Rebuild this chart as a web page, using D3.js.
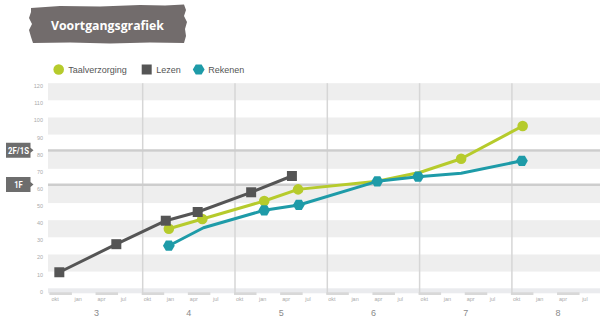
<!DOCTYPE html>
<html>
<head>
<meta charset="utf-8">
<script src="https://d3js.org/d3.v7.min.js"></script>
<style>
  body { margin: 0; background: #fff; }
  svg { display: block; font-family: "Liberation Sans", Arial, sans-serif; }
</style>
</head>
<body>
<div id="chart"></div>
<script>
// groepen en maanden op de x-as
var groepen = [3, 4, 5, 6, 7, 8],
    maanden = ['okt', 'jan', 'apr', 'jul'],
    yTicks = [0, 10, 20, 30, 40, 50, 60, 70, 80, 90, 100, 110, 120]

// referentieniveaus
var niveauLabels = ['2F/1S', '1F'],
    niveauWaarden = [80, 60]

// maand = maanden sinds okt groep 3; meting 0 = knik zonder marker
var taalMaand = [15.4, 19.75, 27.8, 32.2, 42.5, 48.1, 53.4, 61.4],
    taalScore = [35, 40.7, 51.2, 58, 62.7, 68, 75.9, 95],
    taalMeting = [1, 1, 1, 1, 0, 0, 1, 1]

var lezenMaand = [1.16, 8.57, 15.0, 19.15, 26.1, 31.4],
    lezenScore = [9.6, 26, 39.7, 44.8, 56.3, 65.8],
    lezenMeting = [1, 1, 1, 1, 1, 1]

var rekenMaand = [15.4, 19.9, 27.8, 32.3, 42.5, 47.8, 53.4, 61.3],
    rekenScore = [25.1, 35.6, 45.8, 48.9, 62.7, 65.4, 67.4, 74.7],
    rekenMeting = [1, 0, 1, 1, 1, 1, 0, 1]

var defaults = {
    colors: {
        band: '#eeeeee',
        grid: '#d6d6d6',
        niveau: '#cdcdcd',
        label: '#aaaaaa',
        taal: '#b6cb2c',
        lezen: '#555555',
        reken: '#1e9ba8',
        titel: '#726c6c',
        tag: '#6d6d6d'
    }
}

var width = 600, height = 320,
    plotLeft = 48, plotRight = 600

var x = d3.scaleLinear().domain([0, 72]).range([50.4, 604.2])
var y = d3.scaleLinear().domain([0, 120]).range([288.7, 83.2])

var vis = d3.select('#chart').append('svg')
    .attr('width', width)
    .attr('height', height)

// titel
var ruwRand = [[31,8],[60,6],[100,6.5],[140,5],[165,5.5],[184,4.5],[186,10],[184,16],[187,22],[185,29],[186,36],[184,43],
    [150,42.5],[110,43.5],[70,42.5],[33,43],[31,37],[29,30],[32,24],[29,18],[31,12]]
vis.append('path')
    .attr('d', d3.line()(ruwRand) + 'Z')
    .attr('fill', defaults.colors.titel)
vis.append('text')
    .attr('x', 51).attr('y', 30)
    .attr('fill', '#fff')
    .attr('font-family', '"Open Sans", sans-serif')
    .attr('font-weight', 'bold')
    .attr('font-size', 13)
    .attr('textLength', 113)
    .attr('lengthAdjust', 'spacingAndGlyphs')
    .text('Voortgangsgrafiek')

// banden
var bands = yTicks.filter(function(v) { return v % 20 === 10 })
vis.append('g').selectAll('rect').data(bands).join('rect')
    .attr('x', plotLeft)
    .attr('width', plotRight - plotLeft)
    .attr('y', function(v) { return y(v + 10) })
    .attr('height', function(v) { return y(v) - y(v + 10) })
    .attr('fill', defaults.colors.band)

// y labels
vis.append('g').selectAll('text').data(yTicks).join('text')
    .attr('x', 43)
    .attr('y', function(v) { return y(v) + 5 })
    .attr('text-anchor', 'end')
    .attr('font-size', 5.5)
    .attr('fill', defaults.colors.label)
    .text(function(v) { return v })

// as-strook onderaan
vis.append('rect')
    .attr('x', plotLeft).attr('y', 288.3)
    .attr('width', plotRight - plotLeft).attr('height', 5)
    .attr('fill', '#eaebee')

var kwartalen = []
groepen.forEach(function(g, gi) {
    maanden.forEach(function(m, mi) {
        kwartalen.push({ groep: g, maand: m, t: gi * 12 + mi * 3, idx: mi })
    })
})

vis.append('g').selectAll('rect').data(kwartalen.filter(function(d) { return d.idx % 2 === 0 })).join('rect')
    .attr('x', function(d) { return x(d.t) - 1 })
    .attr('y', 292.3)
    .attr('width', 22.5)
    .attr('height', 2.7)
    .attr('fill', '#d8d8d8')

vis.append('g').selectAll('text').data(kwartalen).join('text')
    .attr('x', function(d) { return x(d.t) + 1 })
    .attr('y', 301)
    .attr('font-size', 5.5)
    .attr('fill', defaults.colors.label)
    .text(function(d) { return d.maand })

vis.append('g').selectAll('text').data(groepen).join('text')
    .attr('x', function(g, i) { return x(i * 12 + 6) })
    .attr('y', 316)
    .attr('text-anchor', 'middle')
    .attr('font-size', 9)
    .attr('fill', '#8a8a8a')
    .text(function(g) { return g })

// verticale lijnen per groep
vis.append('g').selectAll('line').data(groepen.slice(1)).join('line')
    .attr('x1', function(g, i) { return x((i + 1) * 12) })
    .attr('x2', function(g, i) { return x((i + 1) * 12) })
    .attr('y1', y(120))
    .attr('y2', 294)
    .attr('stroke', defaults.colors.grid)
    .attr('stroke-width', 1.5)

// niveaulijnen met labels
var niveaus = niveauLabels.map(function(l, i) { return { label: l, value: niveauWaarden[i] } })
vis.append('g').selectAll('line').data(niveaus).join('line')
    .attr('x1', plotLeft).attr('x2', plotRight)
    .attr('y1', function(d) { return y(d.value) - 1.2 })
    .attr('y2', function(d) { return y(d.value) - 1.2 })
    .attr('stroke', defaults.colors.niveau)
    .attr('stroke-width', 2.5)

var tags = vis.append('g').selectAll('g').data(niveaus).join('g')
    .attr('transform', function(d) { return 'translate(0,' + (y(d.value) - 1.5) + ')' })
tags.append('path')
    .attr('d', 'M6,-7.5H30.5V-2.5L33.5,0L30.5,2.5V7.5H6Z')
    .attr('fill', defaults.colors.tag)
tags.append('text')
    .attr('x', 18.5).attr('y', 3.3)
    .attr('text-anchor', 'middle')
    .attr('fill', '#fff')
    .attr('font-family', 'Roboto, sans-serif')
    .attr('font-weight', 'bold')
    .attr('font-size', 9.5)
    .attr('textLength', function(d) { return d.label.length > 2 ? 21 : 8.5 })
    .attr('lengthAdjust', 'spacingAndGlyphs')
    .text(function(d) { return d.label })

// reeksen
function hexPath(r) {
    return d3.line()(d3.range(6).map(function(k) {
        return [r * Math.cos(k * Math.PI / 3), r * Math.sin(k * Math.PI / 3)]
    })) + 'Z'
}
var markers = {
    circle: d3.symbol(d3.symbolCircle, 88)(),
    square: d3.symbol(d3.symbolSquare, 100)(),
    hexagon: hexPath(5.9)
}

var reeksen = [
    { naam: 'Taalverzorging', kleur: defaults.colors.taal, vorm: 'circle', maand: taalMaand, score: taalScore, meting: taalMeting },
    { naam: 'Lezen', kleur: defaults.colors.lezen, vorm: 'square', maand: lezenMaand, score: lezenScore, meting: lezenMeting },
    { naam: 'Rekenen', kleur: defaults.colors.reken, vorm: 'hexagon', maand: rekenMaand, score: rekenScore, meting: rekenMeting }
]

var line = d3.line()
    .x(function(d) { return x(d.t) })
    .y(function(d) { return y(d.v) })

reeksen.forEach(function(r) {
    var punten = r.maand.map(function(t, i) { return { t: t, v: r.score[i], m: r.meting[i] } })
    var g = vis.append('g')
    g.append('path')
        .datum(punten)
        .attr('d', line)
        .attr('fill', 'none')
        .attr('stroke', r.kleur)
        .attr('stroke-width', 3)
        .attr('stroke-linejoin', 'round')
    g.selectAll('path.mark').data(punten.filter(function(p) { return p.m })).join('path')
        .attr('class', 'mark')
        .attr('d', markers[r.vorm])
        .attr('transform', function(p) { return 'translate(' + x(p.t) + ',' + y(p.v) + ')' })
        .attr('fill', r.kleur)
})

// legenda
var legendX = [58.7, 146.7, 198.7]
var legend = vis.append('g').selectAll('g').data(reeksen).join('g')
    .attr('transform', function(r, i) { return 'translate(' + legendX[i] + ',69.5)' })
legend.append('path')
    .attr('d', function(r) { return markers[r.vorm] })
    .attr('fill', function(r) { return r.kleur })
legend.append('text')
    .attr('x', 9.5).attr('y', 3.2)
    .attr('font-size', 9)
    .attr('fill', '#555')
    .text(function(r) { return r.naam })
</script>
</body>
</html>
